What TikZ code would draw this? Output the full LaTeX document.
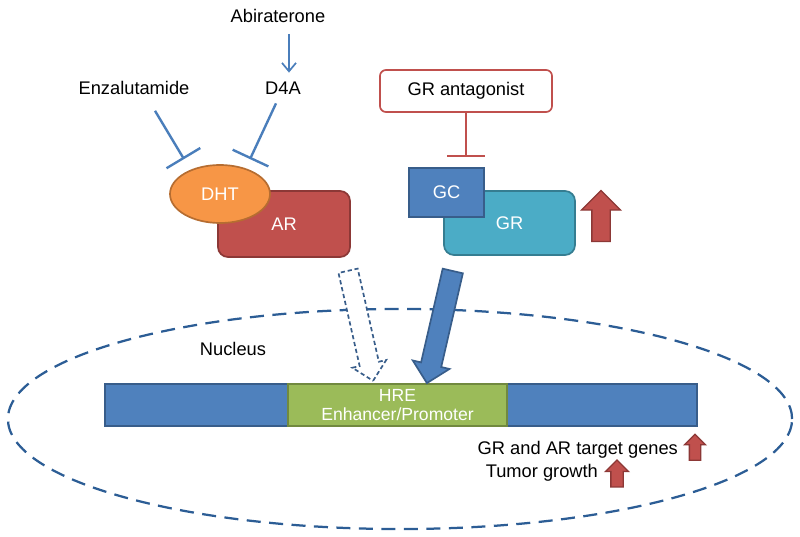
\documentclass[tikz,border=0pt]{standalone}
\usepackage{fontspec}
\setmainfont{Liberation Sans}
\usepackage{tikz}
\usetikzlibrary{shapes.geometric}
\usetikzlibrary{shapes.arrows}
\usetikzlibrary{arrows.meta}
\usetikzlibrary{calc}

\definecolor{lineblue}{HTML}{4A7EBB}
\definecolor{nucblue}{HTML}{2C5D95}
\definecolor{orangefill}{HTML}{F79646}
\definecolor{orangeline}{HTML}{B66D31}
\definecolor{redfill}{HTML}{C0504D}
\definecolor{redline}{HTML}{8C3836}
\definecolor{bluefill}{HTML}{4F81BD}
\definecolor{blueline}{HTML}{385D8A}
\definecolor{tealfill}{HTML}{4BACC6}
\definecolor{tealline}{HTML}{357D91}
\definecolor{greenfill}{HTML}{9BBB59}
\definecolor{greenline}{HTML}{71893F}

\tikzset{
  txt/.style={font=\fontsize{13}{15}\selectfont, inner sep=2pt},
  protein/.style={draw, line width=1.2pt, text=white, font=\fontsize{13}{15}\selectfont},
  inhibit/.style={-{Bar[width=28pt]}, line width=1.7pt, lineblue},
  uparrow/.style={single arrow, draw=redline, fill=redfill, line width=0.9pt, rotate=90, inner xsep=0pt},
  flow/.style={single arrow, draw=blueline, line width=1.2pt, inner xsep=0pt}
}

\begin{document}
\begin{tikzpicture}[x=0.025cm, y=-0.025cm]
        \useasboundingbox (0,0) rectangle (800,537);
        % drugs on top
        \node[txt] (abi) at (278,16) {Abiraterone};
        \node[txt] (d4a) at (283,88) {D4A};
        \node[txt] (enza) at (134,88) {Enzalutamide};
        \draw[lineblue, line width=1.2pt, -{Straight Barb[length=6pt,width=10pt]}] ($(abi.south)+(11,8)$) -- ($(d4a.north)+(6,-6)$);
        % androgen receptor
        \node[protein, fill=redfill, draw=redline, rounded corners=0.25cm, minimum width=3.3cm, minimum height=1.65cm] (ar) at (284,224) {AR};
        \node[protein, ellipse, fill=orangefill, draw=orangeline, minimum width=2.5cm, minimum height=1.45cm] (dht) at (220,194) {DHT};
        \draw[inhibit] ($(enza.south)+(21,13)$) -- ($(dht.north)+(-36,-5)$);
        \draw[inhibit] ($(d4a.south)+(-7,6)$) -- ($(dht.north)+(30,-5)$);
        % glucocorticoid receptor
        \node[txt, draw=redfill, line width=1.2pt, rounded corners=0.15cm, minimum width=4.3cm, minimum height=1.05cm] (antag) at (466,91) {GR antagonist};
        \node[protein, fill=tealfill, draw=tealline, rounded corners=0.25cm, minimum width=3.275cm, minimum height=1.6cm] (gr) at (509.5,223) {GR};
        \node[protein, fill=bluefill, draw=blueline, minimum width=1.875cm, minimum height=1.225cm] (gc) at (446.5,192.5) {GC};
        \draw[redfill, line width=1.7pt, -{Bar[width=27pt]}, shorten >=0.25cm] (antag.south) -- (antag.south |- gc.north);
        \node[uparrow, inner ysep=0.2125cm, minimum height=1.275cm, minimum width=0.95cm, single arrow head extend=0.2625cm] (grup) at (601,220.5) {};
        % nucleus
        \node[ellipse, draw=nucblue, dash pattern=on 10pt off 6pt, line width=1.6pt, minimum width=19.6cm, minimum height=5.5cm] (nucleus) at (400,419) {};
        \node[txt] (nuclabel) at (233,349) {Nucleus};
        \node[draw=blueline, fill=bluefill, line width=1.2pt, minimum width=14.8cm, minimum height=1.05cm] (dna) at (401,405) {};
        \node[protein, fill=greenfill, draw=greenline, align=center, font=\fontsize{12.5}{13}\selectfont, inner sep=0pt, minimum width=5.475cm, minimum height=1.05cm] (hre) at (397.5,405) {HRE\\Enhancer/Promoter};
        \node[flow, fill=white, dash pattern=on 3pt off 2pt, inner ysep=0.225cm, minimum height=2.82cm, minimum width=0.825cm, single arrow head extend=0.1875cm, rotate=-77.2] (arflow) at (359.5,321) {};
        \node[flow, fill=bluefill, inner ysep=0.2375cm, minimum height=2.875cm, minimum width=0.9cm, single arrow head extend=0.2125cm, rotate=-103] (grflow) at (441,322) {};
        % outcome
        \node[txt, anchor=east] (targets) at (681,450) {GR and AR target genes};
        \node[uparrow, inner ysep=0.125cm, minimum height=0.65cm, minimum width=0.5cm, single arrow head extend=0.125cm] (targetsup) at (695,450) {};
        \node[txt, anchor=east] (tumor) at (601,473) {Tumor growth};
        \node[uparrow, inner ysep=0.1375cm, minimum height=0.675cm, minimum width=0.55cm, single arrow head extend=0.1375cm] (tumorup) at (617,476.5) {};
\end{tikzpicture}
\end{document}
